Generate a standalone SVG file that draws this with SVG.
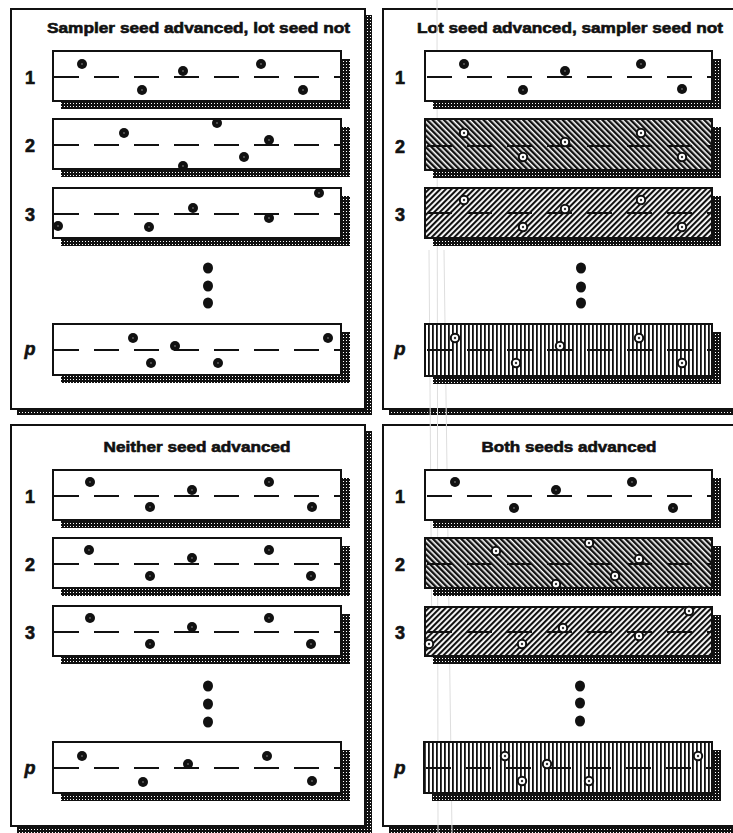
<svg xmlns="http://www.w3.org/2000/svg" xmlns:xlink="http://www.w3.org/1999/xlink" width="733" height="833" viewBox="0 0 733 833">
<defs>
<pattern id="stip" width="3" height="3" patternUnits="userSpaceOnUse"><rect width="3" height="3" fill="#111"/><rect x="1" y="1" width="1" height="1" fill="#fff"/></pattern>
<pattern id="hb" width="4" height="10" patternUnits="userSpaceOnUse" patternTransform="rotate(-45)"><rect width="4" height="10" fill="#fff"/><rect width="2.4" height="10" fill="#111"/></pattern>
<pattern id="hf" width="4" height="10" patternUnits="userSpaceOnUse" patternTransform="rotate(45)"><rect width="4" height="10" fill="#fff"/><rect width="2.1" height="10" fill="#111"/></pattern>
<pattern id="hv" width="4" height="10" patternUnits="userSpaceOnUse"><rect width="4" height="10" fill="#fff"/><rect width="1.8" height="10" fill="#111"/></pattern>
<g id="sd"><circle r="5" fill="#111"/><circle r="0.9" fill="#666"/></g>
<g id="rd"><circle r="4.2" fill="#fff" stroke="#111" stroke-width="2"/><circle r="1.2" fill="#333"/></g>
</defs>
<style>
.frame{fill:#fff;stroke:#111;stroke-width:2}
.pshadow{fill:url(#stip)}
.box{stroke:#111;stroke-width:2}
.rshadow{fill:url(#stip)}
.w{fill:#fff}
.b{fill:url(#hb)}
.f{fill:url(#hf)}
.v{fill:url(#hv)}
.dash{stroke:#111;stroke-width:2;stroke-dasharray:25 15;fill:none}
.title{font-family:"Liberation Sans",Arial,sans-serif;font-weight:bold;font-size:15px;fill:#111;stroke:#111;stroke-width:0.6}
.lab{font-family:"Liberation Sans",Arial,sans-serif;font-weight:bold;font-size:18px;fill:#111;stroke:#111;stroke-width:0.6;text-anchor:middle}
.it{font-style:italic}
.ell{fill:#111}
</style>
<rect width="733" height="833" fill="#fff"/>

<g id="panel-tl">
<rect class="pshadow" x="17" y="15" width="355" height="400"/>
<rect class="frame" x="11" y="9" width="354" height="400"/>
<text class="title" x="198.5" y="33" text-anchor="middle" textLength="303" lengthAdjust="spacingAndGlyphs">Sampler seed advanced, lot seed not</text>
</g>
<g id="panel-tr">
<rect class="pshadow" x="389" y="15" width="360" height="400"/>
<rect class="frame" x="383" y="9" width="360" height="400"/>
<text class="title" x="570" y="33" text-anchor="middle" textLength="306" lengthAdjust="spacingAndGlyphs">Lot seed advanced, sampler seed not</text>
</g>
<g id="panel-bl">
<rect class="pshadow" x="17" y="431" width="355" height="402"/>
<rect class="frame" x="11" y="425" width="354" height="401"/>
<text class="title" x="197" y="452" text-anchor="middle" textLength="187" lengthAdjust="spacingAndGlyphs">Neither seed advanced</text>
</g>
<g id="panel-br">
<rect class="pshadow" x="389" y="431" width="360" height="402"/>
<rect class="frame" x="383" y="425" width="360" height="401"/>
<text class="title" x="569" y="452" text-anchor="middle" textLength="175" lengthAdjust="spacingAndGlyphs">Both seeds advanced</text>
</g>

<g id="scanlines" stroke="#dedede" stroke-width="1">
<line x1="437" y1="0" x2="438" y2="833"/>
<line x1="429" y1="250" x2="432" y2="660"/>
<line x1="444" y1="250" x2="452" y2="833"/>
</g>

<g id="tl-r1">
<rect class="rshadow" x="61" y="59" width="289" height="50"/>
<rect class="box w" x="53" y="51" width="288" height="50"/>
<line class="dash" x1="54" y1="77" x2="340" y2="77"/>
<use href="#sd" x="82" y="64"/><use href="#sd" x="142" y="90"/><use href="#sd" x="183" y="71"/><use href="#sd" x="261" y="64"/><use href="#sd" x="303" y="90"/>
<text class="lab" x="30" y="84">1</text>
</g>
<g id="tl-r2">
<rect class="rshadow" x="61" y="127" width="289" height="50"/>
<rect class="box w" x="53" y="119" width="288" height="50"/>
<line class="dash" x1="54" y1="145" x2="340" y2="145"/>
<use href="#sd" x="124" y="133"/><use href="#sd" x="217" y="123"/><use href="#sd" x="183" y="166"/><use href="#sd" x="244" y="157"/><use href="#sd" x="269" y="140"/>
<text class="lab" x="30" y="152">2</text>
</g>
<g id="tl-r3">
<rect class="rshadow" x="61" y="196" width="289" height="50"/>
<rect class="box w" x="53" y="188" width="288" height="50"/>
<line class="dash" x1="54" y1="214" x2="340" y2="214"/>
<use href="#sd" x="58" y="226"/><use href="#sd" x="149" y="227"/><use href="#sd" x="193" y="208"/><use href="#sd" x="269" y="218"/><use href="#sd" x="319" y="193"/>
<text class="lab" x="30" y="221">3</text>
</g>
<g id="tl-ellipsis" class="ell"><ellipse cx="208" cy="268" rx="5" ry="5.5"/><ellipse cx="208" cy="286" rx="5" ry="5.5"/><ellipse cx="208" cy="303" rx="5" ry="5.5"/></g>
<g id="tl-rp">
<rect class="rshadow" x="61" y="332" width="289" height="51"/>
<rect class="box w" x="53" y="324" width="288" height="51"/>
<line class="dash" x1="54" y1="350" x2="340" y2="350"/>
<use href="#sd" x="133" y="338"/><use href="#sd" x="151" y="363"/><use href="#sd" x="175" y="346"/><use href="#sd" x="218" y="363"/><use href="#sd" x="328" y="338"/>
<text class="lab it" x="30" y="355">p</text>
</g>

<g id="tr-r1">
<rect class="rshadow" x="433" y="59" width="288" height="50"/>
<rect class="box w" x="425" y="51" width="287" height="50"/>
<line class="dash" x1="427" y1="77" x2="711" y2="77"/>
<use href="#sd" x="464" y="64"/><use href="#sd" x="523" y="90"/><use href="#sd" x="565" y="71"/><use href="#sd" x="641" y="64"/><use href="#sd" x="682" y="89"/>
<text class="lab" x="400" y="84">1</text>
</g>
<g id="tr-r2">
<rect class="rshadow" x="433" y="127" width="288" height="51"/>
<rect class="box b" x="425" y="119" width="287" height="51"/>
<line class="dash" x1="427" y1="146" x2="711" y2="146"/>
<use href="#rd" x="464" y="133"/><use href="#rd" x="523" y="157"/><use href="#rd" x="565" y="142"/><use href="#rd" x="641" y="133"/><use href="#rd" x="682" y="157"/>
<text class="lab" x="400" y="153">2</text>
</g>
<g id="tr-r3">
<rect class="rshadow" x="433" y="196" width="288" height="50"/>
<rect class="box f" x="425" y="188" width="287" height="50"/>
<line class="dash" x1="427" y1="213" x2="711" y2="213"/>
<use href="#rd" x="464" y="200"/><use href="#rd" x="523" y="227"/><use href="#rd" x="565" y="209"/><use href="#rd" x="641" y="200"/><use href="#rd" x="682" y="227"/>
<text class="lab" x="400" y="221">3</text>
</g>
<g id="tr-ellipsis" class="ell"><ellipse cx="581" cy="268" rx="5" ry="5.5"/><ellipse cx="581" cy="287" rx="5" ry="5.5"/><ellipse cx="581" cy="303" rx="5" ry="5.5"/></g>
<g id="tr-rp">
<rect class="rshadow" x="433" y="332" width="288" height="52"/>
<rect class="box v" x="425" y="324" width="287" height="52"/>
<line class="dash" x1="427" y1="350" x2="711" y2="350"/>
<use href="#rd" x="455" y="338"/><use href="#rd" x="516" y="363"/><use href="#rd" x="560" y="346"/><use href="#rd" x="639" y="338"/><use href="#rd" x="682" y="363"/>
<text class="lab it" x="400" y="355">p</text>
</g>

<g id="bl-r1">
<rect class="rshadow" x="61" y="478" width="289" height="50"/>
<rect class="box w" x="53" y="470" width="288" height="50"/>
<line class="dash" x1="54" y1="496" x2="340" y2="496"/>
<use href="#sd" x="90" y="482"/><use href="#sd" x="150" y="507"/><use href="#sd" x="192" y="490"/><use href="#sd" x="269" y="482"/><use href="#sd" x="312" y="507"/>
<text class="lab" x="30" y="503">1</text>
</g>
<g id="bl-r2">
<rect class="rshadow" x="61" y="546" width="289" height="50"/>
<rect class="box w" x="53" y="538" width="288" height="50"/>
<line class="dash" x1="54" y1="564" x2="340" y2="564"/>
<use href="#sd" x="89" y="550"/><use href="#sd" x="150" y="576"/><use href="#sd" x="192" y="558"/><use href="#sd" x="269" y="550"/><use href="#sd" x="311" y="576"/>
<text class="lab" x="30" y="571">2</text>
</g>
<g id="bl-r3">
<rect class="rshadow" x="61" y="614" width="289" height="50"/>
<rect class="box w" x="53" y="606" width="288" height="50"/>
<line class="dash" x1="54" y1="632" x2="340" y2="632"/>
<use href="#sd" x="90" y="618"/><use href="#sd" x="150" y="644"/><use href="#sd" x="192" y="627"/><use href="#sd" x="269" y="618"/><use href="#sd" x="311" y="644"/>
<text class="lab" x="30" y="639">3</text>
</g>
<g id="bl-ellipsis" class="ell"><ellipse cx="208" cy="686" rx="5" ry="5.5"/><ellipse cx="208" cy="704" rx="5" ry="5.5"/><ellipse cx="208" cy="722" rx="5" ry="5.5"/></g>
<g id="bl-rp">
<rect class="rshadow" x="61" y="750" width="289" height="51"/>
<rect class="box w" x="53" y="742" width="288" height="51"/>
<line class="dash" x1="54" y1="768" x2="340" y2="768"/>
<use href="#sd" x="82" y="756"/><use href="#sd" x="143" y="782"/><use href="#sd" x="188" y="764"/><use href="#sd" x="267" y="756"/><use href="#sd" x="312" y="781"/>
<text class="lab it" x="30" y="774">p</text>
</g>

<g id="br-r1">
<rect class="rshadow" x="433" y="478" width="288" height="50"/>
<rect class="box w" x="425" y="470" width="287" height="50"/>
<line class="dash" x1="427" y1="496" x2="711" y2="496"/>
<use href="#sd" x="455" y="482"/><use href="#sd" x="514" y="508"/><use href="#sd" x="556" y="490"/><use href="#sd" x="632" y="482"/><use href="#sd" x="673" y="508"/>
<text class="lab" x="400" y="503">1</text>
</g>
<g id="br-r2">
<rect class="rshadow" x="433" y="546" width="288" height="50"/>
<rect class="box b" x="425" y="538" width="287" height="50"/>
<line class="dash" x1="427" y1="564" x2="711" y2="564"/>
<use href="#rd" x="496" y="551"/><use href="#rd" x="589" y="543"/><use href="#rd" x="556" y="584"/><use href="#rd" x="615" y="576"/><use href="#rd" x="639" y="559"/>
<text class="lab" x="400" y="571">2</text>
</g>
<g id="br-r3">
<rect class="rshadow" x="433" y="615" width="288" height="49"/>
<rect class="box f" x="425" y="607" width="287" height="49"/>
<line class="dash" x1="427" y1="632" x2="711" y2="632"/>
<use href="#rd" x="429" y="644"/><use href="#rd" x="522" y="644"/><use href="#rd" x="563" y="628"/><use href="#rd" x="639" y="636"/><use href="#rd" x="689" y="611"/>
<text class="lab" x="400" y="639">3</text>
</g>
<g id="br-ellipsis" class="ell"><ellipse cx="580" cy="686" rx="5" ry="5.5"/><ellipse cx="580" cy="703" rx="5" ry="5.5"/><ellipse cx="580" cy="721" rx="5" ry="5.5"/></g>
<g id="br-rp">
<rect class="rshadow" x="432" y="750" width="289" height="51"/>
<rect class="box v" x="424" y="742" width="288" height="51"/>
<line class="dash" x1="426" y1="768" x2="711" y2="768"/>
<use href="#rd" x="505" y="756"/><use href="#rd" x="522" y="781"/><use href="#rd" x="547" y="764"/><use href="#rd" x="589" y="781"/><use href="#rd" x="698" y="756"/>
<text class="lab it" x="400" y="774">p</text>
</g>
</svg>
